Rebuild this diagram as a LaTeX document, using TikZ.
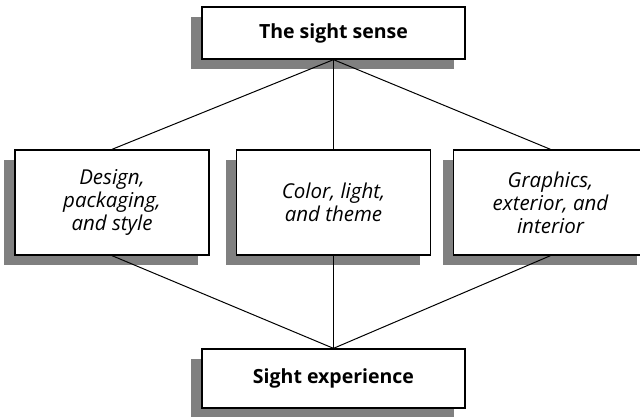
\documentclass[tikz,border=0pt]{standalone}
\usepackage{fontspec}
\setmainfont{Open Sans}
\usetikzlibrary{shadows}
\definecolor{shadowgray}{HTML}{808080}
\tikzset{
  box/.style={draw=black, line width=1.3pt, fill=white, inner sep=0pt,
    drop shadow={shadow xshift=-11pt, shadow yshift=-10pt, fill=shadowgray, opacity=1}},
  titlebox/.style={box, minimum width=263pt, font=\fontsize{19.5}{24}\selectfont\bfseries},
  midbox/.style={box, minimum width=194pt, minimum height=105pt, align=center,
    font=\fontsize{20.5}{23}\selectfont\itshape},
  link/.style={draw=black, line width=1pt}
}
\begin{document}
\begin{tikzpicture}[x=1pt,y=1pt]
\useasboundingbox (0,0) rectangle (640,416);
\clip (0,0) rectangle (640,416);
\node[titlebox, minimum height=52pt] (top) at (333.5,383) {The sight sense};
\node[midbox] (left) at (112,213.5) {Design,\\packaging,\\and style};
\node[midbox] (mid) at (333.5,213.5) {Color, light,\\and theme};
\node[midbox] (right) at (550.5,213.5) {Graphics,\\exterior, and\\interior};
\node[titlebox, minimum height=59pt] (bot) at (333.5,37.5) {Sight experience};
\draw[link] (top.south) -- (left.north);
\draw[link] (top.south) -- (mid.north);
\draw[link] (top.south) -- (right.north);
\draw[link] (left.south) -- (bot.north);
\draw[link] (mid.south) -- (bot.north);
\draw[link] (right.south) -- (bot.north);
\end{tikzpicture}
\end{document}
